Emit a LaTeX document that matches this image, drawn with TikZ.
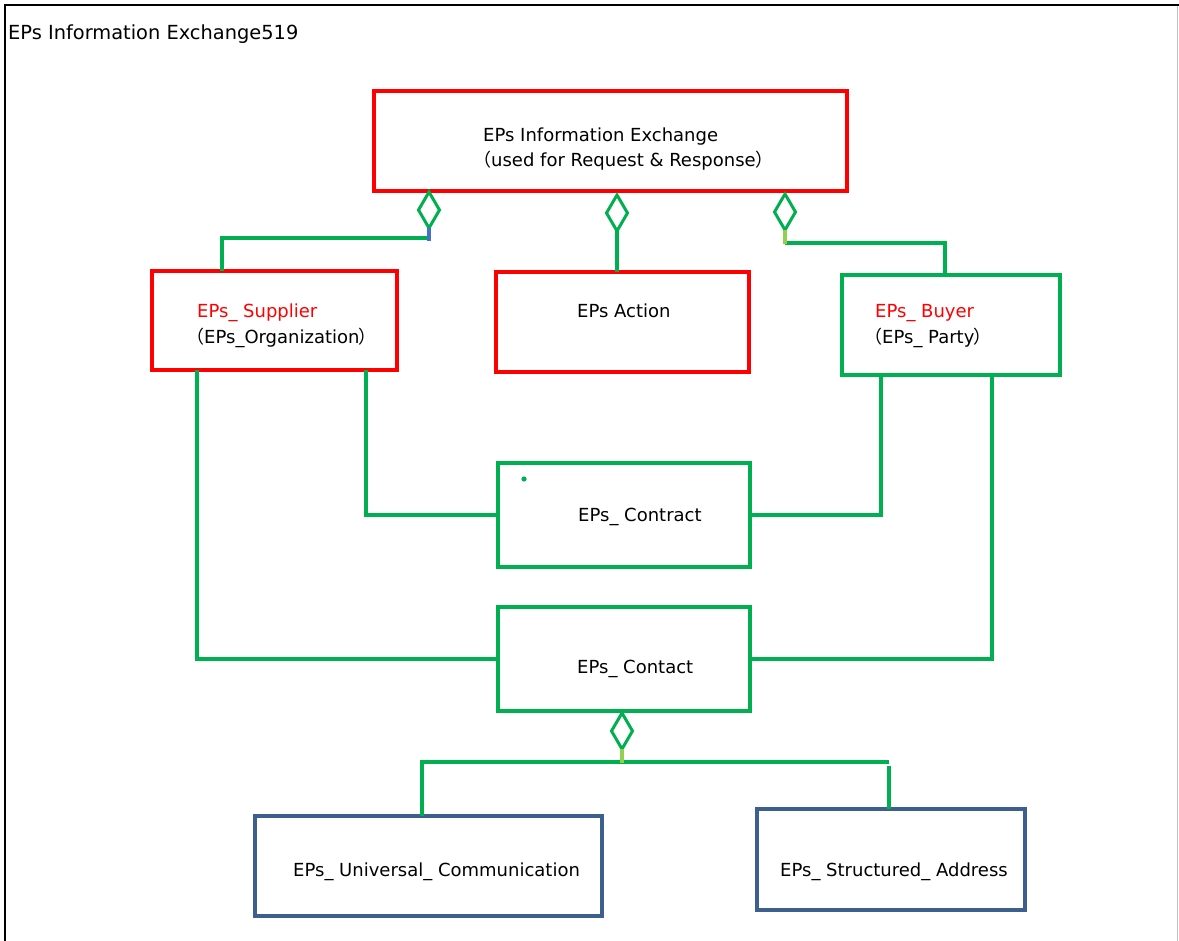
\documentclass[tikz,border=0pt]{standalone}
\usepackage{fontspec}
\setmainfont{DejaVu Sans}
\newfontfamily\cjk[RawFeature=+palt]{Noto Sans CJK JP}
\usetikzlibrary{shapes.geometric}
\definecolor{ered}{HTML}{FF0000}
\definecolor{egreen}{HTML}{00B050}
\definecolor{eblue}{HTML}{3C5F8D}
\definecolor{elime}{HTML}{92D050}
\definecolor{estub}{HTML}{4472C4}
\begin{document}
\begin{tikzpicture}[x=1pt,y=-1pt,
  box/.style={draw, line width=3.2pt, rectangle, inner sep=0pt, outer sep=0pt, anchor=north west},
  redbox/.style={box, draw=ered},
  greenbox/.style={box, draw=egreen},
  bluebox/.style={box, draw=eblue},
  lbl/.style={anchor=base west, inner sep=0pt, font=\fontsize{18}{22}\selectfont, text=black},
  conn/.style={draw=egreen, line width=3.2pt},
  stub/.style={line width=3.2pt},
  agg/.style={diamond, draw=egreen, fill=white, line width=3pt, minimum width=21pt, minimum height=36pt, inner sep=0pt, outer sep=0pt, anchor=north}
]
\useasboundingbox (0,0) rectangle (1179,941);
\fill[white] (0,0) rectangle (1179,941);
% frame
\draw[line width=2pt] (5,941) -- (5,5) -- (1179,5);
\draw[black!25, line width=1pt] (1177.5,6) -- (1177.5,941);
\node[lbl, font=\fontsize{19.4}{23}\selectfont] (title) at (8,40) {EPs Information Exchange519};

% boxes
\node[redbox, minimum width=473pt, minimum height=100pt] (top) at (374,91) {};
\node[redbox, minimum width=245pt, minimum height=99pt] (sup) at (152,271) {};
\node[redbox, minimum width=253pt, minimum height=100pt] (act) at (496,272) {};
\node[greenbox, minimum width=218pt, minimum height=100pt] (buy) at (842,275) {};
\node[greenbox, minimum width=252pt, minimum height=104pt] (ctr) at (498,463) {};
\node[greenbox, minimum width=252pt, minimum height=104pt] (cnt) at (498,607) {};
\node[bluebox, minimum width=347pt, minimum height=100pt] (uni) at (255,816) {};
\node[bluebox, minimum width=268pt, minimum height=101pt] (adr) at (757,809) {};

% texts
\node[lbl] (t1) at (483,142) {EPs Information Exchange};
\node[lbl] (t2) at (482,167) {{\cjk （}used for Request \& Response{\cjk ）}};
\node[lbl, text=ered] (t3) at (197,318) {EPs\_ Supplier};
\node[lbl] (t4) at (195,344) {{\cjk （}EPs\_Organization{\cjk ）}};
\node[lbl] (t5) at (577,318) {EPs Action};
\node[lbl, text=ered] (t6) at (875,318) {EPs\_ Buyer};
\node[lbl] (t7) at (873,344) {{\cjk （}EPs\_ Party{\cjk ）}};
\node[lbl] (t8) at (578,521) {EPs\_ Contract};
\node[lbl] (t9) at (577,673) {EPs\_ Contact};
\node[lbl] (t10) at (293,876) {EPs\_ Universal\_ Communication};
\node[lbl] (t11) at (780,876) {EPs\_ Structured\_ Address};
\fill[egreen] (524,479) circle (2.6pt);

% attachment points
\coordinate (h1) at (429,238);
\coordinate (j1) at (429,241);
\coordinate (s1) at (222,271);
\coordinate (h3) at (785,243);
\coordinate (j3) at (785,244);
\coordinate (b1) at (945,275);
\coordinate (sb1) at (197,370);
\coordinate (sb2) at (366,370);
\coordinate (bb1) at (881,375);
\coordinate (bb2) at (992,375);
\coordinate (j4) at (622,763);
\coordinate (hr) at (889,762);
\coordinate (hr2) at (889,766);
\coordinate (uT) at (422,816);
\coordinate (aT) at (889,809);

% diamonds
\node[agg] (d1) at (429,192) {};
\node[agg] (d2) at (617,195) {};
\node[agg] (d3) at (785,194) {};
\node[agg] (d4) at (622,713) {};

% connectors
\draw[conn] (h1) -| (s1);
\draw[stub, estub] (d1.south) -- (j1);
\draw[conn] (d2.south) -- (d2.south |- act.north);
\draw[conn] (h3) -| (b1);
\draw[stub, elime] (d3.south) -- (j3);
\draw[conn] (sb2) |- (ctr.west);
\draw[conn] (ctr.east) -| (bb1);
\draw[conn] (sb1) |- (cnt.west);
\draw[conn] (bb2) |- (cnt.east);
\draw[conn] (uT) |- (hr);
\draw[conn] (hr2) -- (aT);
\draw[stub, elime] (d4.south) -- (j4);
\end{tikzpicture}
\end{document}
